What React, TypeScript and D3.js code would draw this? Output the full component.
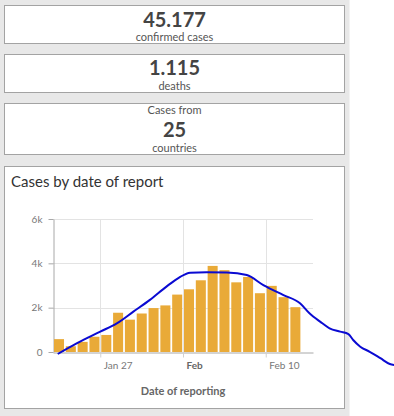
import React, { useRef, useEffect } from 'react';
import * as d3 from 'd3';

// summary tiles
const confirmed = "45.177";
const deaths = "1.115";
const countries = "25";

// daily cases by date of report, Jan 23 .. Feb 12
const startDay = new Date(2020, 0, 23);
const endDay = new Date(2020, 1, 14);
const dailyCases = [581, 259, 457, 688, 769, 1771, 1459, 1737, 1982, 2102, 2590,
    2829, 3235, 3884, 3694, 3143, 3385, 2652, 2984, 2473, 2022];

// blue trend line: days after Jan 23 and value
const trendDays = [0.4, 2, 4, 5.4, 6.8, 8.2, 9.6, 10.7, 11.6, 13, 14.7, 16.4, 17.8,
    19.5, 20.9, 21.7, 22.6, 23.4, 24.3, 25, 25.4, 26, 26.8, 27.7, 28.5, 28.9];
const trendValues = [-90, 390, 920, 1290, 1820, 2350, 2950, 3370, 3580, 3600, 3590,
    3470, 3020, 2570, 2200, 1750, 1370, 1070, 920, 810, 540, 240, 10, -280, -540, -590];

const yTicks = [0, 2000, 4000, 6000];
const yTickLabels = ["0", "2k", "4k", "6k"];
const xTickDates = [new Date(2020, 0, 27), new Date(2020, 1, 3), new Date(2020, 1, 10)];
const xTickLabels = ["Jan 27", "Feb", "Feb 10"];

const font = "Lato, 'Open Sans', sans-serif";
const dayMs = 864e5;

function Dashboard() {
    const ref = useRef(null);
    useEffect(() => {
        var svg = d3.select(ref.current);
        svg.selectAll("*").remove();

        // gray side panel
        svg.append("rect").attr("x", 0).attr("y", 0).attr("width", 349.5).attr("height", 416)
            .attr("fill", "#e8e8e8");

        var boxes = [[5, 43], [54, 92], [103, 154], [166, 408]];
        boxes.forEach(function (b) {
            svg.append("rect")
                .attr("x", 4.5).attr("y", b[0] + 0.5)
                .attr("width", 340).attr("height", b[1] - b[0])
                .attr("fill", "#fff").attr("stroke", "#a3a3a3");
        });

        var cx = 174.5;
        function txt(y, s, size, weight, color) {
            svg.append("text").attr("x", cx).attr("y", y)
                .attr("text-anchor", "middle")
                .attr("font-family", font).attr("font-size", size)
                .attr("font-weight", weight).attr("fill", color)
                .text(s);
        }
        txt(27, confirmed, 20, 700, "#444");
        txt(41, "confirmed cases", 11, 400, "#555");
        txt(75, deaths, 20, 700, "#444");
        txt(90, "deaths", 11, 400, "#555");
        txt(114, "Cases from", 11, 400, "#555");
        txt(137, countries, 20, 700, "#444");
        txt(152, "countries", 11, 400, "#555");

        svg.append("text").attr("x", 11).attr("y", 187)
            .attr("font-family", font).attr("font-size", 15)
            .attr("fill", "#333").text("Cases by date of report");

        var x = d3.scaleTime().domain([startDay, endDay]).range([53, 313]);
        var y = d3.scaleLinear().domain([0, 6000]).range([352, 219]);
        var dayW = x(new Date(startDay.getTime() + dayMs)) - x(startDay);

        var g = svg.append("g");

        // grid
        g.selectAll(".hgrid").data(yTicks.slice(1)).enter().append("line")
            .attr("x1", 53).attr("x2", 313)
            .attr("y1", function (d) { return Math.round(y(d)) + 0.5; })
            .attr("y2", function (d) { return Math.round(y(d)) + 0.5; })
            .attr("stroke", "#e3e3e3");
        g.selectAll(".vgrid").data(xTickDates).enter().append("line")
            .attr("x1", function (d) { return Math.round(x(d)) + 0.5; })
            .attr("x2", function (d) { return Math.round(x(d)) + 0.5; })
            .attr("y1", 219).attr("y2", 352)
            .attr("stroke", "#e3e3e3");

        // y axis
        var yAxis = g.append("g").attr("transform", "translate(53.5,0)")
            .call(d3.axisLeft(y).tickValues(yTicks)
                .tickFormat(function (d, i) { return yTickLabels[i]; })
                .tickSize(5).tickSizeOuter(0).tickPadding(6));
        yAxis.select(".domain").attr("stroke", "#a8a8a8");
        yAxis.selectAll(".tick line").attr("stroke", "#a8a8a8");
        yAxis.selectAll("text").attr("font-family", font).attr("font-size", 10).attr("fill", "#777");

        // bars
        g.selectAll(".bar").data(dailyCases).enter().append("rect")
            .attr("class", "bar")
            .attr("x", function (d, i) { return x(new Date(startDay.getTime() + i * dayMs)) + 1; })
            .attr("y", function (d) { return y(d); })
            .attr("width", dayW - 1.8)
            .attr("height", function (d) { return y(0) - y(d); })
            .attr("fill", "#e9aa38");

        // x axis
        var xAxis = g.append("g").attr("transform", "translate(0,352.5)")
            .call(d3.axisBottom(x).tickValues(xTickDates)
                .tickFormat(function (d, i) { return xTickLabels[i]; })
                .tickSize(5).tickSizeOuter(0));
        xAxis.select(".domain").attr("stroke", "#a8a8a8");
        xAxis.selectAll(".tick line").attr("stroke", "#d0d0d0");
        xAxis.selectAll("text")
            .attr("text-anchor", "start").attr("x", 3).attr("y", 9)
            .attr("font-family", font).attr("font-size", 10)
            .attr("font-weight", function (d, i) { return xTickLabels[i] === "Feb" ? 700 : 400; })
            .attr("fill", function (d, i) { return xTickLabels[i] === "Feb" ? "#666" : "#777"; });

        svg.append("text").attr("x", 183).attr("y", 395)
            .attr("text-anchor", "middle")
            .attr("font-family", font).attr("font-size", 11).attr("font-weight", 700)
            .attr("fill", "#666").text("Date of reporting");

        // trend line
        var line = d3.line()
            .x(function (d) { return x(new Date(startDay.getTime() + d[0] * dayMs)); })
            .y(function (d) { return y(d[1]); })
            .curve(d3.curveMonotoneX);
        svg.append("path")
            .datum(trendDays.map(function (d, i) { return [d, trendValues[i]]; }))
            .attr("d", line)
            .attr("fill", "none")
            .attr("stroke", "#0a0ad2")
            .attr("stroke-width", 2);
    }, []);
    return (
        <svg ref={ref} width="394" height="416"
            style={{ position: "absolute", left: 0, top: 0, background: "#fff" }}></svg>
    );
}

export default function App() {
    return <Dashboard />;
}
